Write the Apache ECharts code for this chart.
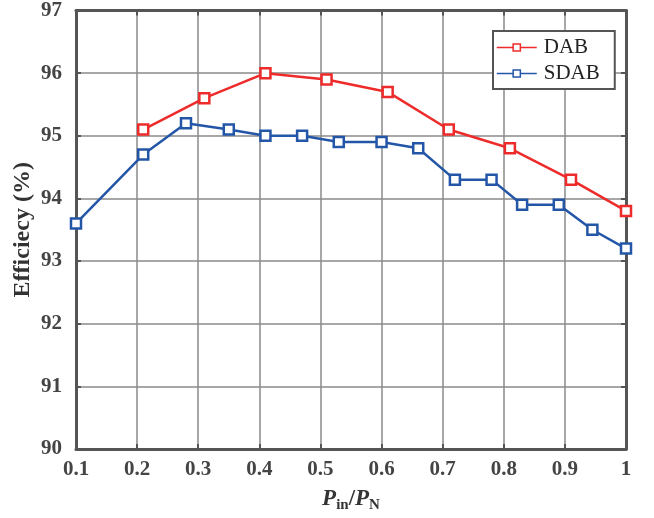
<!DOCTYPE html>
<html>
<head>
<meta charset="utf-8">
<script src="https://cdn.jsdelivr.net/npm/echarts@6/dist/echarts.min.js"></script>
<style>
  html, body { margin: 0; padding: 0; background: #fff; }
  #chart { width: 654px; height: 518px; }
</style>
</head>
<body>
<div id="chart"></div>
<script>
// Efficiency of DAB vs SDAB converters over load ratio Pin/PN
const dabX = [0.21, 0.31, 0.41, 0.51, 0.61, 0.71, 0.81, 0.91, 1.0];
const dabY = [95.1, 95.6, 96.0, 95.9, 95.7, 95.1, 94.8, 94.3, 93.8];
const sdabX = [0.10, 0.21, 0.28, 0.35, 0.41, 0.47, 0.53, 0.60, 0.66, 0.72, 0.78, 0.83, 0.89, 0.945, 1.0];
const sdabY = [93.6, 94.7, 95.2, 95.1, 95.0, 95.0, 94.9, 94.9, 94.8, 94.3, 94.3, 93.9, 93.9, 93.5, 93.2];
const seriesNames = ['DAB', 'SDAB'];
const yTicks = [90, 91, 92, 93, 94, 95, 96, 97];

const pairs = (xs, ys) => xs.map((x, i) => [x, ys[i]]);
const serif = '"Liberation Serif", "DejaVu Serif", serif';
const frameColor = '#555';
const gridColor = '#8a8a8a';
const red = '#ee2b2b';
const blue = '#2456a8';

const chart = echarts.init(document.getElementById('chart'));

const tickLabel = {
  fontFamily: serif, fontWeight: 'bold', fontSize: 21, color: '#444'
};

chart.setOption({
  animation: false,
  grid: { left: 76, right: 28, top: 10, bottom: 65 },
  legend: {
    left: 493, top: 31,
    orient: 'vertical',
    backgroundColor: '#fff',
    borderColor: frameColor, borderWidth: 2,
    padding: [6, 15, 5, 3],
    itemGap: 5,
    itemWidth: 40, itemHeight: 9,
    lineStyle: { width: 1.5 },
    itemStyle: { borderWidth: 1.5 },
    textStyle: { fontFamily: serif, fontSize: 21, color: '#222', padding: [0, 0, 0, 2] },
    data: seriesNames
  },
  xAxis: [{
    type: 'value', min: 0.1, max: 1, interval: 0.1,
    name: '{i|P}{s|in}{t|/}{i|P}{s|N}',
    nameLocation: 'middle', nameGap: 37,
    nameTextStyle: {
      rich: {
        i: { fontFamily: serif, fontStyle: 'italic', fontWeight: 'bold', fontSize: 23, color: '#333' },
        t: { fontFamily: serif, fontWeight: 'bold', fontSize: 23, color: '#333' },
        s: { fontFamily: serif, fontWeight: 'bold', fontSize: 15, color: '#333', padding: [12, 0, 0, 0] }
      }
    },
    axisLine: { onZero: false, lineStyle: { color: frameColor, width: 3 } },
    axisTick: { inside: true, length: 5, lineStyle: { color: frameColor, width: 2 } },
    axisLabel: Object.assign({ margin: 10, formatter: v => String(+v.toFixed(1)) }, tickLabel),
    splitLine: { show: true, lineStyle: { color: gridColor, width: 1.5 } }
  }, {
    type: 'value', position: 'top', min: 0.1, max: 1, interval: 0.1,
    axisLine: { onZero: false, lineStyle: { color: frameColor, width: 3 } },
    axisTick: { inside: true, length: 5, lineStyle: { color: frameColor, width: 2 } },
    axisLabel: { show: false }, splitLine: { show: false }
  }],
  yAxis: [{
    type: 'value', min: yTicks[0], max: yTicks[yTicks.length - 1], interval: 1,
    name: 'Efficiecy (%)',
    nameLocation: 'middle', nameGap: 41, nameRotate: 90,
    nameMoveOverlap: false,
    nameTextStyle: { fontFamily: serif, fontWeight: 'bold', fontSize: 24, color: '#333' },
    axisLine: { onZero: false, lineStyle: { color: frameColor, width: 3 } },
    axisTick: { inside: true, length: 5, lineStyle: { color: frameColor, width: 2 } },
    axisLabel: Object.assign({ margin: 14 }, tickLabel),
    splitLine: { show: true, lineStyle: { color: gridColor, width: 1.5 } }
  }, {
    type: 'value', position: 'right', min: yTicks[0], max: yTicks[yTicks.length - 1], interval: 1,
    axisLine: { onZero: false, lineStyle: { color: frameColor, width: 3 } },
    axisTick: { inside: true, length: 5, lineStyle: { color: frameColor, width: 2 } },
    axisLabel: { show: false }, splitLine: { show: false }
  }],
  series: [{
    name: seriesNames[0], type: 'line',
    data: pairs(dabX, dabY),
    symbol: 'rect', symbolSize: 10,
    lineStyle: { color: red, width: 2.5 },
    itemStyle: { color: '#fff', borderColor: red, borderWidth: 2.5 },
    z: 3
  }, {
    name: seriesNames[1], type: 'line',
    data: pairs(sdabX, sdabY),
    symbol: 'rect', symbolSize: 10,
    lineStyle: { color: blue, width: 2.5 },
    itemStyle: { color: '#fff', borderColor: blue, borderWidth: 2.5 },
    z: 3
  }]
});
</script>
</body>
</html>
